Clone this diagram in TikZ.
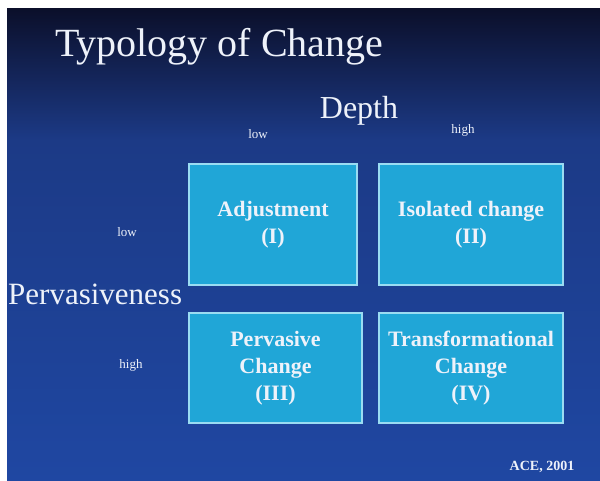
\documentclass[tikz,border=0pt]{standalone}
\usepackage{fontspec}
\setmainfont{Liberation Serif}
\usepackage{tikz}

\definecolor{slidetop}{HTML}{0B0F2A}
\definecolor{slidemid}{HTML}{1C3A86}
\definecolor{slidelow}{HTML}{1F47A2}
\definecolor{cellfill}{HTML}{20A6D7}
\definecolor{cellrim}{HTML}{9ADCF2}
\definecolor{textwhite}{HTML}{EEF2FA}

\tikzset{cell node/.style={
	draw=cellrim,
	fill=cellfill,
	line width=1.5pt,
	text=textwhite,
	align=center,
	inner sep=0mm,
	font=\bfseries\fontsize{22}{27}\selectfont,
}}
\tikzset{axis node/.style={
	text=textwhite,
	inner sep=0mm,
	anchor=base,
	font=\fontsize{32}{36}\selectfont,
}}
\tikzset{level node/.style={
	text=textwhite,
	inner sep=0mm,
	anchor=base,
	font=\fontsize{13}{15}\selectfont,
}}

\begin{document}
\begin{tikzpicture}[x=1pt,y=-1pt]
\useasboundingbox (0,0) rectangle (600,480);
\fill[white] (0,0) rectangle (600,480);

% slide background
\shade[top color=slidetop, bottom color=slidemid] (7,8) rectangle (600,140);
\shade[top color=slidemid, bottom color=slidelow] (7,140) rectangle (600,480);

\node[axis node, anchor=base west, font=\fontsize{40}{44}\selectfont] (title) at (55,56) {Typology of Change};

% axes
\node[axis node] (depth) at (359,118) {Depth};
\node[axis node, anchor=base west, font=\fontsize{31}{34}\selectfont] (pervasiveness) at (8,304) {Pervasiveness};

\node[level node] (dlow) at (258,138) {low};
\node[level node] (dhigh) at (463,133) {high};
\node[level node] (plow) at (127,236) {low};
\node[level node] (phigh) at (131,368) {high};

% quadrants
\node[cell node, minimum width=168, minimum height=121] (adjust) at (273,224.5) {Adjustment\\(I)};
\node[cell node, minimum width=184, minimum height=121] (isolated) at (471,224.5) {Isolated change\\(II)};
\node[cell node, minimum width=173, minimum height=110] (pervasive) at (275.5,368) {Pervasive\\Change\\(III)};
\node[cell node, minimum width=184, minimum height=110] (transform) at (471,368) {Transformational\\Change\\(IV)};

\node[level node, font=\bfseries\fontsize{14}{16}\selectfont] (source) at (542,470) {ACE, 2001};
\end{tikzpicture}
\end{document}
